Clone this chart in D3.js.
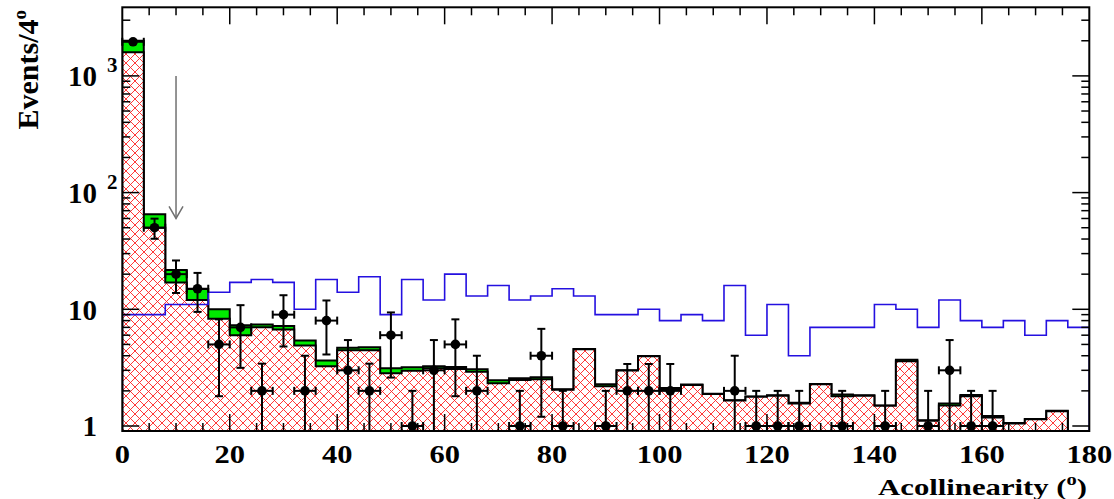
<!DOCTYPE html>
<html>
<head>
<meta charset="utf-8">
<script src="https://cdn.jsdelivr.net/npm/d3@7"></script>
<style>
    body { margin: 0; background: #ffffff; }
    svg { display: block; }
    text { font-family: "Liberation Serif", "Times New Roman", serif; font-weight: bold; fill: #000; }
</style>
</head>
<body>
<div id="chart"></div>
<script>
//bins (lower edges, 4 degrees wide)
var binWidth = 4;
var binLow = [0, 4, 8, 12, 16, 20, 24, 28, 32, 36, 40, 44, 48, 52, 56, 60, 64, 68, 72, 76, 80, 84,
              88, 92, 96, 100, 104, 108, 112, 116, 120, 124, 128, 132, 136, 140, 144, 148, 152, 156,
              160, 164, 168, 172, 176];

//data points and their errors
var dataCounts = [1960, 50, 20, 15, 5, 7, 2, 9, 2, 8, 3, 2, 6, 1, 3, 5, 2, 0, 1, 4, 1, 0, 1, 2, 2, 2,
                  0, 0, 2, 1, 1, 1, 0, 1, 0, 1, 0, 1, 3, 1, 1, 0, 0, 0, 0];
var dataErrors = [60, 9.8, 6.2, 5.5, 3.2, 3.85, 1.42, 4.2, 2, 3.9, 2.45, 1.42, 3.4, 1, 2.45, 3.2, 2, 0,
                  1, 2.8, 1, 0, 1, 1.4, 1.4, 1.4, 0, 0, 2, 1, 1, 1, 0, 1, 0, 1, 0, 1, 2.45, 1, 1, 0, 0, 0, 0];

//red hatched background
var bkgRed = [1592, 50, 17, 12, 8.3, 6.0, 7.0, 6.7, 4.9, 3.25, 4.45, 4.45, 2.83, 2.98, 3.12, 3.08, 2.92,
              2.33, 2.48, 2.51, 2.04, 4.54, 2.19, 2.99, 3.95, 2.04, 2.25, 1.88, 1.65, 1.78, 1.82, 1.56,
              2.28, 1.80, 1.82, 1.49, 3.59, 1.11, 1.50, 1.80, 1.18, 1.05, 1.14, 1.34, 0];
//green background, stacked on top of the red one
var bkgGreen = [412, 15.2, 4.7, 2.9, 1.7, 1.3, 0.4, 0.49, 0.5, 0.4, 0.24, 0.27, 0.29, 0.2, 0.13, 0.12,
                0.14, 0.14, 0.09, 0.1, 0.02, 0.02, 0.09, 0.02, 0.02, 0.08, 0.02, 0.01, 0.01, 0.01, 0.01,
                0.02, 0.01, 0.06, 0.01, 0.01, 0.11, 0.01, 0.06, 0.04, 0.04, 0.01, 0.01, 0.01, 0];
//blue line histogram
var blueLine = [9, 9, 11, 11, 14, 17, 18, 17, 10, 18, 14, 19, 9, 18, 12, 20, 13, 16, 12, 13, 15, 13, 9,
                9, 10, 8, 9, 8, 16, 6, 11, 4, 7, 7, 7, 11, 10, 7, 12, 8, 7, 8, 6, 8, 7];

//axis labels
var xTickLabels = [0, 20, 40, 60, 80, 100, 120, 140, 160, 180];
var yTickValues = [1, 10, 100, 1000];
var yTickBase = ['1', '10', '10', '10'];
var yTickExp = ['', '', '2', '3'];

var cutValue = 10;

var width = 1114;
var height = 499;
var plot = {'left': 122.3, 'right': 1089.3, 'top': 7.3, 'bottom': 431};
var yMin = 0.906;
var yMax = 3870;

var x = d3.scaleLinear().domain([0, 180]).range([plot.left, plot.right]);
var y = d3.scaleLog().domain([yMin, yMax]).range([plot.bottom, plot.top]);

var svg = d3.select('#chart')
    .append('svg')
    .attr('width', width)
    .attr('height', height);

var defs = svg.append('defs');
defs.append('clipPath')
    .attr('id', 'plotclip')
    .append('rect')
    .attr('x', plot.left)
    .attr('y', plot.top)
    .attr('width', plot.right - plot.left)
    .attr('height', plot.bottom - plot.top);

var hp = 9;
var hatch = defs.append('pattern')
    .attr('id', 'hatch')
    .attr('patternUnits', 'userSpaceOnUse')
    .attr('width', hp)
    .attr('height', hp);
hatch.append('rect')
    .attr('width', hp)
    .attr('height', hp)
    .attr('fill', '#ffffff');
hatch.append('path')
    .attr('d', 'M0,0L' + hp + ',' + hp + 'M' + hp + ',0L0,' + hp +
               'M-1,1L1,-1M' + (hp - 1) + ',' + (hp + 1) + 'L' + (hp + 1) + ',' + (hp - 1) +
               'M-1,' + (hp - 1) + 'L1,' + (hp + 1) + 'M' + (hp - 1) + ',-1L' + (hp + 1) + ',1')
    .attr('stroke', '#ff2222')
    .attr('stroke-width', 0.9);

var body = svg.append('g').attr('clip-path', 'url(#plotclip)');

//step outline of a histogram
function stepPath(values){
    var yb = plot.bottom + 3;
    var pts = [[x(binLow[0]), yb]];
    values.forEach(function(v, i){
        var yy = v > yMin ? y(v) : yb;
        pts.push([x(binLow[i]), yy]);
        pts.push([x(binLow[i] + binWidth), yy]);
    });
    pts.push([x(binLow[binLow.length - 1] + binWidth), yb]);
    return d3.line()(pts);
}

var stacked = bkgRed.map(function(v, i){ return v + bkgGreen[i]; });

body.append('path')
    .attr('d', stepPath(stacked))
    .attr('fill', '#00ea00')
    .attr('stroke', '#000')
    .attr('stroke-width', 2);

body.append('path')
    .attr('d', stepPath(bkgRed))
    .attr('fill', 'url(#hatch)')
    .attr('stroke', '#000')
    .attr('stroke-width', 2);

body.append('path')
    .attr('d', stepPath(blueLine))
    .attr('fill', 'none')
    .attr('stroke', '#2410e0')
    .attr('stroke-width', 1.6);

//ticks
var axes = svg.append('g').attr('stroke', '#000').attr('stroke-width', 1.5);
for (var t = 5; t < 180; t += 5) {
    var len = (t % 20 === 0) ? 17 : 8;
    axes.append('line').attr('x1', x(t)).attr('x2', x(t)).attr('y1', plot.bottom).attr('y2', plot.bottom - len);
    axes.append('line').attr('x1', x(t)).attr('x2', x(t)).attr('y1', plot.top).attr('y2', plot.top + len);
}
[1, 10, 100, 1000].forEach(function(dec){
    for (var k = 1; k <= 9; k++) {
        var v = dec * k;
        if (v < yMin || v > yMax) continue;
        var l = (k === 1) ? 17 : 8;
        axes.append('line').attr('x1', plot.left).attr('x2', plot.left + l).attr('y1', y(v)).attr('y2', y(v));
        axes.append('line').attr('x1', plot.right).attr('x2', plot.right - l).attr('y1', y(v)).attr('y2', y(v));
    }
});

//data points
var pts = svg.append('g').attr('stroke', '#000').attr('stroke-width', 2);
dataCounts.forEach(function(n, i){
    if (n <= 0) return;
    var cx = x(binLow[i] + binWidth / 2);
    var cy = y(n);
    var e = dataErrors[i];
    var yTop = y(n + e);
    var lowIn = (n - e) > yMin;
    var yBot = lowIn ? y(n - e) : plot.bottom;
    pts.append('line').attr('x1', cx).attr('x2', cx).attr('y1', yTop).attr('y2', yBot);
    pts.append('line').attr('x1', cx - 4).attr('x2', cx + 4).attr('y1', yTop).attr('y2', yTop);
    if (lowIn)
        pts.append('line').attr('x1', cx - 4).attr('x2', cx + 4).attr('y1', yBot).attr('y2', yBot);
    var xl = x(binLow[i]);
    var xr = x(binLow[i] + binWidth);
    pts.append('line').attr('x1', xl).attr('x2', xr).attr('y1', cy).attr('y2', cy);
    pts.append('line').attr('x1', xl).attr('x2', xl).attr('y1', cy - 4).attr('y2', cy + 4);
    pts.append('line').attr('x1', xr).attr('x2', xr).attr('y1', cy - 4).attr('y2', cy + 4);
    pts.append('circle').attr('cx', cx).attr('cy', cy).attr('r', 4.8).attr('fill', '#000').attr('stroke', 'none');
});

//cut arrow
var arrow = svg.append('g').attr('stroke', '#707070').attr('stroke-width', 1.5).attr('fill', 'none');
var ax = x(cutValue);
var tipY = y(60);
arrow.append('line').attr('x1', ax).attr('x2', ax).attr('y1', y(1000)).attr('y2', tipY);
arrow.append('path').attr('d', 'M' + (ax - 7) + ',' + (tipY - 12) + 'L' + ax + ',' + tipY + 'L' + (ax + 7) + ',' + (tipY - 12));

//frame
svg.append('rect')
    .attr('x', plot.left)
    .attr('y', plot.top)
    .attr('width', plot.right - plot.left)
    .attr('height', plot.bottom - plot.top)
    .attr('fill', 'none')
    .attr('stroke', '#000')
    .attr('stroke-width', 2);

//x labels
xTickLabels.forEach(function(t){
    svg.append('text')
        .attr('transform', 'translate(' + x(t) + ',463) scale(1.22,1)')
        .attr('text-anchor', 'middle')
        .style('font-size', '25px')
        .text(t);
});

//y labels
yTickValues.forEach(function(v, i){
    svg.append('text')
        .attr('x', 97)
        .attr('y', y(v) + 10.5)
        .attr('text-anchor', 'end')
        .style('font-size', '29px')
        .text(yTickBase[i]);
    if (yTickExp[i] !== '') {
        svg.append('text')
            .attr('x', 107)
            .attr('y', y(v) - 4)
            .style('font-size', '21px')
            .text(yTickExp[i]);
    }
});

//axis titles
var yTitle = svg.append('text')
    .attr('transform', 'translate(38,10) rotate(-90)')
    .attr('text-anchor', 'end')
    .style('font-size', '30px');
yTitle.append('tspan').text('Events/4');
yTitle.append('tspan').attr('dy', -12).style('font-size', '19px').text('o');

var xTitle = svg.append('text')
    .attr('transform', 'translate(1087,495) scale(1.28,1)')
    .attr('text-anchor', 'end')
    .style('font-size', '24px');
xTitle.append('tspan').text('Acollinearity (');
xTitle.append('tspan').attr('dy', -10).style('font-size', '16px').text('o');
xTitle.append('tspan').attr('dy', 10).text(')');
</script>
</body>
</html>
